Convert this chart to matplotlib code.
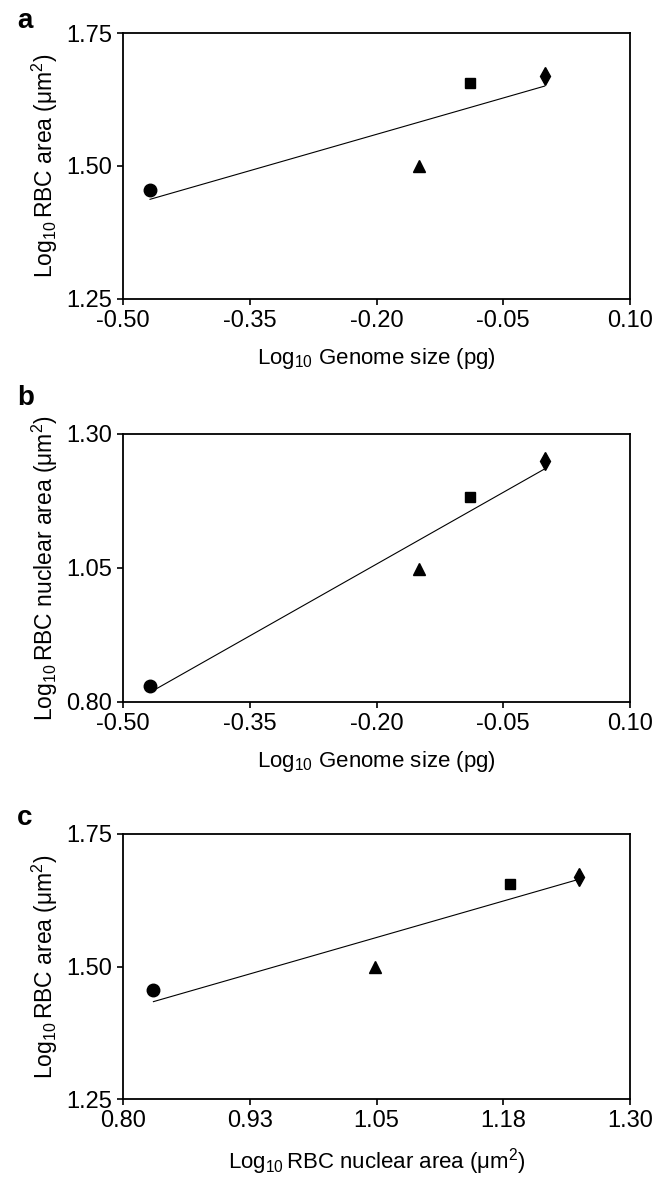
import numpy as np
import matplotlib
matplotlib.use('Agg')
import matplotlib.pyplot as plt

from matplotlib import rcParams
rcParams['font.family'] = ['Liberation Sans', 'DejaVu Sans']
rcParams['mathtext.fontset'] = 'custom'
rcParams['mathtext.rm'] = 'Liberation Sans'
rcParams['mathtext.it'] = 'Liberation Sans'
rcParams['axes.unicode_minus'] = False

# four species, one marker each
markers = ['o', '^', 's', 'd']
marker_sizes = [9, 8, 7.5, 9]

genome_size = [-0.468, -0.150, -0.089, -0.001]     # log10 pg
nuclear_area = [0.830, 1.049, 1.182, 1.250]        # log10 um2
rbc_area = [1.455, 1.500, 1.656, 1.669]            # log10 um2

gs_ticks = [-0.50, -0.35, -0.20, -0.05, 0.10]
gs_labels = ['-0.50', '-0.35', '-0.20', '-0.05', '0.10']
na_ticks = [0.80, 0.925, 1.05, 1.175, 1.30]
na_labels = ['0.80', '0.93', '1.05', '1.18', '1.30']
rbc_ticks = [1.25, 1.50, 1.75]
rbc_labels = ['1.25', '1.50', '1.75']
nuc_ticks = [0.80, 1.05, 1.30]
nuc_labels = ['0.80', '1.05', '1.30']

lab_gs = r'Log$_{10}$ Genome size (pg)'
lab_rbc = r'Log$_{10}\,$RBC area (μm$^2$)'
lab_nuc = r'Log$_{10}\,$RBC nuclear area (μm$^2$)'

panels = [
    ('a', genome_size, rbc_area, gs_ticks, gs_labels, rbc_ticks, rbc_labels, lab_gs, lab_rbc),
    ('b', genome_size, nuclear_area, gs_ticks, gs_labels, nuc_ticks, nuc_labels, lab_gs, lab_nuc),
    ('c', nuclear_area, rbc_area, na_ticks, na_labels, rbc_ticks, rbc_labels, lab_nuc, lab_rbc),
]

fig = plt.figure(figsize=(6.64, 11.8), dpi=100)
fig.patch.set_facecolor('white')

W, H = 664, 1180
boxes = [(33, 299), (434, 702), (834, 1099)]  # top, bottom in pixels
letter_base = [28, 405, 825]
left, right = 123, 630

for (letter, x, y, xt, xl, yt, yl, xlab, ylab), (top, bot), lb in zip(panels, boxes, letter_base):
    ax = fig.add_axes([left / W, 1 - bot / H, (right - left) / W, (bot - top) / H])
    for xi, yi, m, ms in zip(x, y, markers, marker_sizes):
        ax.plot(xi, yi, marker=m, color='k', ms=ms, ls='none', zorder=3)

    # linear trend line over the data range
    k, b = np.polyfit(x, y, 1)
    xx = np.array([min(x), max(x)])
    ax.plot(xx, k * xx + b, color='k', lw=0.8)

    ax.set_xlim(xt[0], xt[-1])
    ax.set_ylim(yt[0], yt[-1])
    ax.set_xticks(xt)
    ax.set_xticklabels(xl)
    ax.set_yticks(yt)
    ax.set_yticklabels(yl)
    ax.tick_params(direction='out', length=4, width=1.2, labelsize=17, pad=4)
    for s in ax.spines.values():
        s.set_linewidth(1.3)
    ax.set_xlabel(xlab, fontsize=16, labelpad=10)
    ax.set_ylabel(ylab, fontsize=16.5, labelpad=4)

    fig.text(17 / W, 1 - lb / H, letter, fontsize=20, fontweight='bold',
             va='baseline', ha='left')

fig.savefig('out.png', dpi=100, facecolor='white')
